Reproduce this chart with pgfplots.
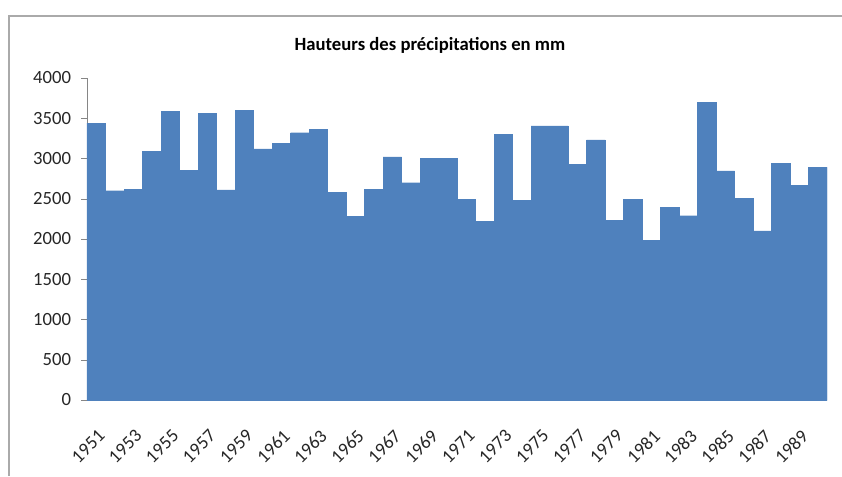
\documentclass[border=0pt]{standalone}
\usepackage{pgfplots}
\pgfplotsset{compat=1.18}
\usepackage{fontspec}
\setmainfont{Carlito}
\definecolor{barblue}{HTML}{4F81BD}
\definecolor{axgray}{HTML}{868686}
\begin{document}
\begin{tikzpicture}
\path[use as bounding box] (0,0) rectangle (631.5pt,357pt);
\draw[axgray!70, line width=1.4pt] (6.75pt,0) -- (6.75pt,345pt) -- (631.5pt,345pt);
\node[font=\bfseries\fontsize{14}{16}\selectfont] at (322.5pt, 323.25pt) {Hauteurs des précipitations en mm};
\begin{axis}[
  at={(65.25pt,57pt)}, anchor=origin, scale only axis,
  width=555pt, height=241.5pt,
  ybar, bar width=1,
  xmin=1950.5, xmax=1990.5, ymin=0, ymax=4000,
  ytick={0,500,...,4000},
  xtick={1951,1953,...,1989},
  axis lines=left,
  axis line style={axgray, -},
  tick align=outside,
  major tick length=4.5pt,
  ytick style={axgray},
  xtick style={draw=none},
  /pgf/number format/1000 sep={},
  /pgf/number format/assume math mode=true,
  tick label style={font=\fontsize{14}{16}\selectfont, text=black!85},
  yticklabel style={xshift=-4pt},
  xticklabel style={rotate=45, anchor=north east, xshift=-8pt, yshift=-9pt},
]
\addplot[fill=barblue, draw=barblue, line width=0.2pt] coordinates {
(1951,3440) (1952,2600) (1953,2620) (1954,3090) (1955,3590)
(1956,2850) (1957,3565) (1958,2610) (1959,3600) (1960,3120)
(1961,3190) (1962,3320) (1963,3365) (1964,2580) (1965,2280)
(1966,2615) (1967,3020) (1968,2700) (1969,3005) (1970,3005)
(1971,2495) (1972,2220) (1973,3300) (1974,2480) (1975,3405)
(1976,3405) (1977,2930) (1978,3230) (1979,2235) (1980,2495)
(1981,1980) (1982,2395) (1983,2290) (1984,3700) (1985,2845)
(1986,2505) (1987,2100) (1988,2940) (1989,2670) (1990,2890)
};
\end{axis}
\end{tikzpicture}
\end{document}
